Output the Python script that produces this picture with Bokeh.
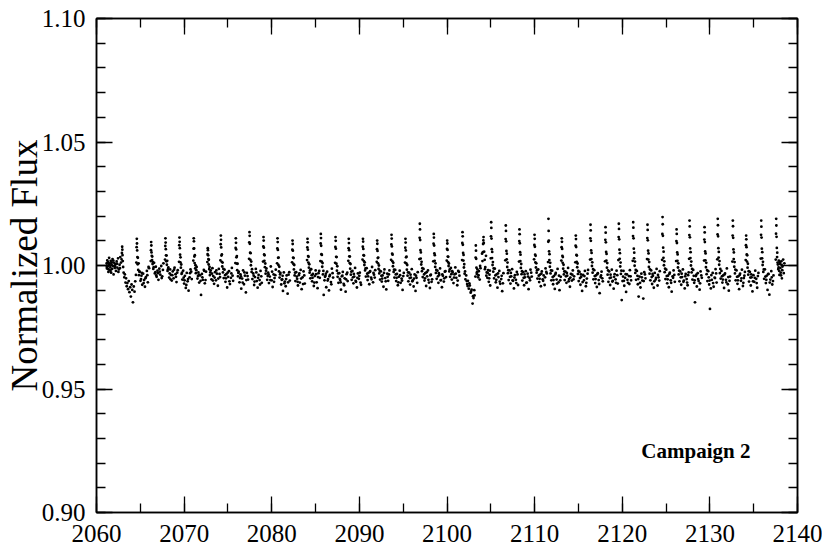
import numpy as np
from bokeh.plotting import figure
from bokeh.models import (Range1d, LinearAxis, FixedTicker, NumeralTickFormatter,
                          CustomJSTickFormatter, Label, ColumnDataSource)
from bokeh.embed import file_html
from bokeh.resources import INLINE

# ---------------- data ----------------
T0 = 2060.0  # time values below are days after 2060

time_days = [
    1.15, 1.19, 1.23, 1.27, 1.31, 1.36, 1.40, 1.44, 1.49, 1.53, 1.58, 1.62, 1.67, 1.72, 1.78, 1.83, 1.89, 1.95, 2.02, 2.08, 2.15, 2.22, 2.30, 2.38, 2.46, 2.55, 2.63, 2.72, 2.80,
    2.86, 2.90, 2.93, 2.95, 2.97, 3.00, 3.04, 3.10, 3.17, 3.24, 3.31, 3.38, 3.45, 3.52, 3.60, 3.68, 3.76, 3.84, 3.92, 4.00, 4.08, 4.16, 4.25, 4.34, 4.42, 4.50,
    4.55, 4.58, 4.60, 4.62, 4.64, 4.67, 4.70, 4.76, 4.84, 4.93, 5.02, 5.13, 5.22, 5.32, 5.43, 5.53, 5.64, 5.75, 5.86, 6.00,
    6.19, 6.22, 6.24, 6.26, 6.28, 6.31, 6.34, 6.40, 6.48, 6.57, 6.66, 6.77, 6.86, 6.96, 7.07, 7.17, 7.28, 7.39, 7.50, 7.64,
    7.82, 7.85, 7.87, 7.89, 7.91, 7.94, 7.97, 8.03, 8.11, 8.20, 8.29, 8.40, 8.49, 8.59, 8.70, 8.80, 8.91, 9.02, 9.13, 9.27,
    9.42, 9.45, 9.47, 9.49, 9.51, 9.54, 9.57, 9.63, 9.71, 9.80, 9.89, 10.00, 10.09, 10.19, 10.30, 10.40, 10.51, 10.62, 10.73, 10.87,
    11.05, 11.08, 11.10, 11.12, 11.14, 11.17, 11.20, 11.26, 11.34, 11.43, 11.52, 11.63, 11.72, 11.82, 11.93, 12.03, 12.14, 12.25, 12.36, 12.50,
    12.65, 12.68, 12.70, 12.72, 12.74, 12.77, 12.80, 12.86, 12.94, 13.03, 13.12, 13.23, 13.32, 13.42, 13.53, 13.63, 13.74, 13.85, 13.96, 14.10,
    14.14, 14.17, 14.19, 14.21, 14.23, 14.26, 14.29, 14.35, 14.43, 14.52, 14.61, 14.72, 14.81, 14.91, 15.02, 15.12, 15.23, 15.34, 15.45, 15.59,
    15.85, 15.88, 15.90, 15.92, 15.94, 15.97, 16.00, 16.06, 16.14, 16.23, 16.32, 16.43, 16.52, 16.62, 16.73, 16.83, 16.94, 17.05, 17.16, 17.30,
    17.41, 17.44, 17.46, 17.48, 17.50, 17.53, 17.56, 17.62, 17.70, 17.79, 17.88, 17.99, 18.08, 18.18, 18.29, 18.39, 18.50, 18.61, 18.72, 18.86,
    19.01, 19.04, 19.06, 19.08, 19.10, 19.13, 19.16, 19.22, 19.30, 19.39, 19.48, 19.59, 19.68, 19.78, 19.89, 19.99, 20.10, 20.21, 20.32, 20.46,
    20.61, 20.64, 20.66, 20.68, 20.70, 20.73, 20.76, 20.82, 20.90, 20.99, 21.08, 21.19, 21.28, 21.38, 21.49, 21.59, 21.70, 21.81, 21.92, 22.06,
    22.32, 22.35, 22.37, 22.39, 22.41, 22.44, 22.47, 22.53, 22.61, 22.70, 22.79, 22.90, 22.99, 23.09, 23.20, 23.30, 23.41, 23.52, 23.63, 23.77,
    24.03, 24.06, 24.08, 24.10, 24.12, 24.15, 24.18, 24.24, 24.32, 24.41, 24.50, 24.61, 24.70, 24.80, 24.91, 25.01, 25.12, 25.23, 25.34, 25.48,
    25.55, 25.58, 25.60, 25.62, 25.64, 25.67, 25.70, 25.76, 25.84, 25.93, 26.02, 26.13, 26.22, 26.32, 26.43, 26.53, 26.64, 26.75, 26.86, 27.00,
    27.23, 27.26, 27.28, 27.30, 27.32, 27.35, 27.38, 27.44, 27.52, 27.61, 27.70, 27.81, 27.90, 28.00, 28.11, 28.21, 28.32, 28.43, 28.54, 28.66,
    28.74, 28.77, 28.79, 28.81, 28.83, 28.86, 28.89, 28.95, 29.03, 29.12, 29.21, 29.32, 29.41, 29.51, 29.62, 29.72, 29.83, 29.94, 30.05, 30.19,
    30.36, 30.39, 30.41, 30.43, 30.45, 30.48, 30.51, 30.57, 30.65, 30.74, 30.83, 30.94, 31.03, 31.13, 31.24, 31.34, 31.45, 31.56, 31.67, 31.81,
    31.98, 32.01, 32.03, 32.05, 32.07, 32.10, 32.13, 32.19, 32.27, 32.36, 32.45, 32.56, 32.65, 32.75, 32.86, 32.96, 33.07, 33.18, 33.29, 33.43,
    33.62, 33.65, 33.67, 33.69, 33.71, 33.74, 33.77, 33.83, 33.91, 34.00, 34.09, 34.20, 34.29, 34.39, 34.50, 34.60, 34.71, 34.82, 34.93, 35.07,
    35.21, 35.24, 35.26, 35.28, 35.30, 35.33, 35.36, 35.42, 35.50, 35.59, 35.68, 35.79, 35.88, 35.98, 36.09, 36.19, 36.30, 36.41, 36.52, 36.66,
    36.85, 36.88, 36.90, 36.92, 36.94, 36.97, 37.00, 37.06, 37.14, 37.23, 37.32, 37.43, 37.52, 37.62, 37.73, 37.83, 37.94, 38.05, 38.16, 38.30,
    38.44, 38.47, 38.49, 38.51, 38.53, 38.56, 38.59, 38.65, 38.73, 38.82, 38.91, 39.02, 39.11, 39.21, 39.32, 39.42, 39.53, 39.64, 39.75, 39.89,
    39.97, 40.00, 40.02, 40.04, 40.06, 40.09, 40.12, 40.18, 40.26, 40.35, 40.44, 40.55, 40.64, 40.74, 40.85, 40.95, 41.06, 41.17, 41.28, 41.42,
    41.72, 41.75, 41.77, 41.79, 41.81, 41.84, 41.87, 41.93, 42.01, 42.10, 42.19, 42.30, 42.39, 42.49, 42.60, 42.70, 42.81, 42.92, 43.03, 43.14,
    43.24, 43.27, 43.29, 43.31, 43.33, 43.36, 43.40, 43.47, 43.55, 43.64, 43.73, 43.82,
    44.05, 44.09, 44.12, 44.15, 44.17, 44.20, 44.24, 44.30, 44.37, 44.45, 44.53, 44.61, 44.69, 44.77, 44.85, 44.93,
    44.99, 45.02, 45.04, 45.06, 45.08, 45.11, 45.14, 45.20, 45.28, 45.37, 45.46, 45.57, 45.66, 45.76, 45.87, 45.97, 46.08, 46.19, 46.30, 46.44,
    46.66, 46.69, 46.71, 46.73, 46.75, 46.78, 46.81, 46.87, 46.95, 47.04, 47.13, 47.24, 47.33, 47.43, 47.54, 47.64, 47.75, 47.86, 47.97, 48.11,
    48.22, 48.25, 48.27, 48.29, 48.31, 48.34, 48.37, 48.43, 48.51, 48.60, 48.69, 48.80, 48.89, 48.99, 49.10, 49.20, 49.31, 49.42, 49.53, 49.67,
    49.94, 49.97, 49.99, 50.01, 50.03, 50.06, 50.09, 50.15, 50.23, 50.32, 50.41, 50.52, 50.61, 50.71, 50.82, 50.92, 51.03, 51.14, 51.25, 51.39,
    51.53, 51.56, 51.58, 51.60, 51.62, 51.65, 51.68, 51.74, 51.82, 51.91, 52.00, 52.11, 52.20, 52.30, 52.41, 52.51, 52.62, 52.73, 52.84, 52.98,
    53.05, 53.08, 53.10, 53.12, 53.14, 53.17, 53.20, 53.26, 53.34, 53.43, 53.52, 53.63, 53.72, 53.82, 53.93, 54.03, 54.14, 54.25, 54.36, 54.50,
    54.65, 54.68, 54.70, 54.72, 54.74, 54.77, 54.80, 54.86, 54.94, 55.03, 55.12, 55.23, 55.32, 55.42, 55.53, 55.63, 55.74, 55.85, 55.96, 56.10,
    56.33, 56.36, 56.38, 56.40, 56.42, 56.45, 56.48, 56.54, 56.62, 56.71, 56.80, 56.91, 57.00, 57.10, 57.21, 57.31, 57.42, 57.53, 57.64, 57.78,
    58.04, 58.07, 58.09, 58.11, 58.13, 58.16, 58.19, 58.25, 58.33, 58.42, 58.51, 58.62, 58.71, 58.81, 58.92, 59.02, 59.13, 59.24, 59.35, 59.49,
    59.56, 59.59, 59.61, 59.63, 59.65, 59.68, 59.71, 59.77, 59.85, 59.94, 60.03, 60.14, 60.23, 60.33, 60.44, 60.54, 60.65, 60.76, 60.87, 61.01,
    61.20, 61.23, 61.25, 61.27, 61.29, 61.32, 61.35, 61.41, 61.49, 61.58, 61.67, 61.78, 61.87, 61.97, 62.08, 62.18, 62.29, 62.40, 62.51, 62.65,
    62.83, 62.86, 62.88, 62.90, 62.92, 62.95, 62.98, 63.04, 63.12, 63.21, 63.30, 63.41, 63.50, 63.60, 63.71, 63.81, 63.92, 64.03, 64.14, 64.28,
    64.55, 64.58, 64.60, 64.62, 64.64, 64.67, 64.70, 64.76, 64.84, 64.93, 65.02, 65.13, 65.22, 65.32, 65.43, 65.53, 65.64, 65.75, 65.86, 66.00,
    66.15, 66.18, 66.20, 66.22, 66.24, 66.27, 66.30, 66.36, 66.44, 66.53, 66.62, 66.73, 66.82, 66.92, 67.03, 67.13, 67.24, 67.35, 67.46, 67.58,
    67.63, 67.66, 67.68, 67.70, 67.72, 67.75, 67.78, 67.84, 67.92, 68.01, 68.10, 68.21, 68.30, 68.40, 68.51, 68.61, 68.72, 68.83, 68.94, 69.08,
    69.34, 69.37, 69.39, 69.41, 69.43, 69.46, 69.49, 69.55, 69.63, 69.72, 69.81, 69.92, 70.01, 70.11, 70.22, 70.32, 70.43, 70.54, 70.65, 70.77,
    70.85, 70.88, 70.90, 70.92, 70.94, 70.97, 71.00, 71.06, 71.14, 71.23, 71.32, 71.43, 71.52, 71.62, 71.73, 71.83, 71.94, 72.05, 72.16, 72.30,
    72.57, 72.60, 72.62, 72.64, 72.66, 72.69, 72.72, 72.78, 72.86, 72.95, 73.04, 73.15, 73.24, 73.34, 73.45, 73.55, 73.66, 73.77, 73.88, 74.00,
    74.09, 74.12, 74.14, 74.16, 74.18, 74.21, 74.24, 74.30, 74.38, 74.47, 74.56, 74.67, 74.76, 74.86, 74.97, 75.07, 75.18, 75.29, 75.40, 75.54,
    75.81, 75.84, 75.86, 75.88, 75.90, 75.93, 75.96, 76.02, 76.10, 76.19, 76.28, 76.39, 76.48, 76.58, 76.69, 76.79, 76.90, 77.01, 77.12, 77.26,
    77.52, 77.55, 77.57, 77.59, 77.61, 77.64, 77.67, 77.73, 77.80, 77.87, 77.94, 78.01, 78.08, 78.15, 78.22, 78.29, 78.36, 78.43, 78.50,
]

# flux deviation from 1, in parts per thousand
flux_ppt = [
    0.8, -1.2, 2.1, -0.4, 1.5, -2.6, 0.2, 3.1, -1.8, 0.9, -0.7, 1.9, -2.9, 0.4, -1.4, 2.6, -0.2, -3.6, 1.1, -1.0, 0.5, -2.2, 1.7, -0.9, 2.9, -1.6, 0.3, 3.4, 1.2,
    2.5, 5.1, 7.6, 6.4, 4.2, 1.8, -0.6, -2.9, -4.8, -3.6, -6.9, -5.2, -8.4, -7.1, -9.6, -6.3, -10.8, -8.8, -12.6, -7.7, -9.9, -14.9, -8.5, -10.6, -6.4, -3.8,
    1.2, 7.4, 10.8, 8.9, 6.1, 3.4, 0.5, -1.8, -3.9, -2.6, -6.2, -4.1, -7.8, -3.3, -5.9, -8.6, -4.7, -2.2, -6.8, -1.1,
    1.8, 6.2, 9.5, 8.1, 5.3, 3.9, 2.2, 0.6, -1.4, 1.1, -3.2, -0.5, -4.6, -2.1, -5.8, -1.3, -3.7, -0.2, -4.4, 0.9,
    2.4, 7.9, 11.0, 9.3, 6.6, 4.1, 1.7, 0.3, -2.2, -0.8, -4.9, -1.6, -3.8, -6.1, -2.4, -5.2, -0.9, -3.5, -6.7, -1.9,
    1.5, 8.2, 11.3, 9.6, 7.0, 4.4, 1.3, -0.9, -3.4, -5.7, -2.1, -7.3, -4.2, -9.1, -3.0, -6.4, -10.2, -4.8, -1.6, -5.5,
    2.0, 6.8, 11.0, 9.8, 6.9, 3.6, 1.0, -1.2, -3.1, -0.6, -5.3, -2.8, -6.9, -4.0, -11.9, -3.4, -5.8, -1.8, -7.2, -2.5,
    1.4, 4.6, 7.0, 6.2, 4.1, 2.6, 0.4, -1.5, -3.9, -2.0, -5.6, -1.1, -4.3, -7.4, -2.7, -6.0, -3.3, -8.2, -1.4, -4.7,
    2.1, 8.6, 12.1, 10.4, 7.3, 4.0, 1.5, -0.4, -2.8, -5.1, -1.7, -6.6, -3.5, -8.9, -4.6, -2.3, -7.5, -5.0, -1.0, -6.2,
    1.0, 7.1, 11.0, 9.2, 6.5, 3.3, 0.8, -1.9, -4.4, -2.5, -6.8, -3.6, -9.4, -5.3, -2.0, -7.6, -4.1, -10.9, -3.0, -5.7,
    2.7, 9.4, 13.5, 12.0, 8.8, 5.2, 2.3, 0.1, -2.6, -5.5, -3.2, -7.9, -4.7, -1.4, -6.3, -9.0, -3.8, -5.9, -2.2, -7.0,
    1.6, 7.7, 11.5, 10.1, 7.2, 4.5, 1.9, -0.7, -3.3, -1.2, -5.8, -2.9, -7.1, -4.5, -0.4, -6.0, -8.7, -3.6, -5.1, -1.7,
    0.9, 6.9, 11.0, 9.5, 6.3, 3.1, 0.2, -2.4, -4.9, -3.0, -7.7, -5.6, -10.3, -2.8, -6.5, -8.4, -4.0, -11.4, -3.7, -6.1,
    1.3, 6.4, 10.1, 8.7, 6.0, 3.2, 0.6, -1.6, -4.0, -6.3, -2.7, -5.4, -8.1, -3.9, -6.9, -1.8, -9.6, -4.8, -2.4, -7.3,
    2.2, 7.3, 10.8, 9.4, 6.4, 3.8, 1.2, -0.9, -2.9, -5.2, -1.5, -6.4, -3.4, -8.3, -4.3, -2.0, -6.8, -9.2, -3.1, -5.0,
    1.8, 8.9, 12.8, 11.1, 8.0, 4.6, 1.6, -0.5, -3.6, -11.9, -6.0, -4.2, -8.8, -2.5, -5.5, -10.1, -3.8, -6.7, -1.3, -4.9,
    1.1, 7.5, 11.5, 10.0, 6.8, 3.5, 0.7, -2.1, -4.6, -7.0, -3.1, -5.9, -9.8, -4.4, -2.6, -7.4, -5.2, -10.6, -3.5, -6.3,
    1.9, 7.0, 10.8, 9.1, 6.2, 3.7, 1.0, -1.3, -3.7, -5.8, -2.2, -7.2, -4.5, -1.0, -6.6, -8.9, -3.2, -5.4, -2.9, -7.8,
    2.4, 7.6, 10.8, 9.7, 6.7, 4.2, 1.8, 0.2, -2.0, -4.5, -1.1, -5.9, -3.0, -7.6, -2.3, -4.9, -0.6, -6.8, -3.7, -1.9,
    1.5, 6.6, 10.1, 8.8, 5.9, 3.0, 0.9, -1.4, -3.2, -5.7, -2.4, -6.5, -4.0, -8.6, -1.6, -5.1, -9.7, -3.3, -6.2, -2.0,
    2.3, 8.5, 12.4, 10.9, 7.7, 4.8, 1.7, -0.3, -2.6, -4.9, -1.8, -6.3, -3.4, -8.0, -4.6, -2.1, -7.0, -5.3, -9.9, -3.0,
    1.2, 7.2, 10.8, 9.3, 6.1, 3.3, 0.8, -1.7, -4.1, -6.4, -2.9, -7.7, -4.9, -1.5, -6.0, -8.5, -3.6, -10.3, -5.0, -2.7,
    2.6, 11.2, 16.9, 14.6, 10.3, 6.2, 2.8, 0.4, -2.3, -4.7, -1.4, -6.1, -3.1, -8.3, -4.4, -2.0, -6.9, -9.1, -3.7, -5.6,
    1.7, 8.8, 12.8, 11.3, 8.1, 4.9, 1.9, -0.6, -3.0, -5.4, -2.1, -7.0, -3.8, -1.2, -5.9, -8.8, -4.2, -6.5, -2.5, -4.7,
    2.0, 6.7, 10.1, 8.9, 6.3, 3.6, 1.4, -0.2, -2.4, -4.6, -1.0, -5.7, -2.8, -7.1, -3.6, -0.8, -5.0, -8.0, -2.2, -4.1,
    2.2, 9.1, 13.5, 11.8, 8.4, 5.1, 2.0, -0.8, -3.3, -5.6, -4.0, -7.5, -6.2, -9.4, -8.1, -11.0, -9.8, -15.4, -13.2, -12.1,
    -4.5, 3.2, 8.1, 6.0, 2.7, -0.9, -3.4, -1.6, -4.8, -2.3, -5.7, -1.1,
    1.8, 5.4, 8.7, 10.2, 11.5, 9.1, 5.6, 2.3, -0.7, 3.9, -2.8, -5.0, -1.9, -6.6, -3.7, -8.1,
    2.9, 11.8, 17.5, 15.2, 10.9, 6.6, 3.0, 0.2, -2.5, -5.2, -1.3, -6.8, -3.6, -9.0, -4.7, -2.2, -7.4, -5.5, -10.4, -3.1,
    2.1, 10.7, 16.2, 14.0, 9.8, 5.9, 2.5, -0.6, -3.1, -5.9, -2.0, -7.3, -4.4, -1.5, -6.2, -9.3, -3.9, -5.8, -2.6, -7.9,
    1.6, 9.9, 14.6, 12.7, 9.0, 5.4, 1.8, -1.0, -3.5, -6.1, -2.7, -8.0, -4.8, -2.3, -6.9, -3.3, -9.6, -5.1, -1.7, -4.5,
    2.5, 8.3, 12.4, 10.8, 7.6, 4.4, 1.3, -0.8, -2.9, -5.3, -1.6, -6.7, -3.7, -8.4, -2.4, -5.6, -4.0, -7.9, -1.2, -3.2,
    1.4, 9.6, 18.9, 14.0, 10.1, 5.7, 2.2, -0.5, -3.2, -6.0, -2.1, -7.6, -4.3, -9.5, -3.0, -5.7, -1.4, -6.8, -10.0, -4.6,
    2.0, 7.4, 11.0, 9.6, 6.7, 3.9, 1.1, -1.3, -3.6, -5.9, -2.5, -7.0, -4.1, -1.0, -5.5, -8.6, -3.4, -6.1, -2.0, -4.4,
    1.3, 8.0, 12.1, 10.7, 7.5, 4.3, 1.5, -0.7, -3.4, -6.3, -2.6, -7.8, -4.6, -10.3, -3.8, -6.0, -2.2, -8.4, -5.3, -1.8,
    2.4, 11.0, 16.5, 14.2, 10.0, 6.1, 2.6, -0.2, -2.9, -5.6, -1.9, -7.1, -4.0, -8.7, -3.1, -5.9, -11.2, -4.7, -2.5, -6.4,
    1.7, 10.4, 15.5, 13.3, 9.4, 5.5, 2.0, -0.9, -3.7, -6.6, -2.4, -7.9, -4.9, -1.7, -6.2, -9.4, -3.5, -5.6, -2.1, -7.3,
    2.2, 11.5, 16.9, 14.8, 10.6, 6.4, 2.7, -0.4, -3.4, -14.0, -6.3, -2.2, -8.2, -5.0, -10.7, -3.6, -7.0, -4.3, -1.9, -6.0,
    1.9, 11.9, 17.5, 15.3, 11.0, 6.8, 2.9, -0.1, -3.0, -5.8, -2.2, -7.6, -12.6, -4.5, -8.9, -3.3, -6.1, -13.4, -2.7, -5.2,
    2.6, 11.1, 16.5, 14.4, 10.2, 6.0, 2.4, -0.6, -3.3, -6.0, -2.0, -7.5, -4.2, -9.0, -3.0, -5.7, -1.4, -8.1, -4.8, -2.3,
    2.3, 12.8, 19.6, 16.7, 12.0, 7.2, 3.1, 0.1, -2.7, -5.5, -1.7, -7.2, -4.1, -8.8, -2.9, -6.0, -10.6, -4.4, -2.0, -6.6,
    1.8, 9.9, 14.6, 12.8, 9.1, 5.3, 1.9, -0.8, -3.6, -6.4, -2.4, -7.8, -4.7, -1.6, -6.1, -9.3, -3.4, -5.5, -8.0, -2.8,
    2.7, 12.3, 18.2, 15.8, 11.4, 6.9, 3.0, 0.0, -2.8, -5.7, -1.8, -7.0, -14.9, -4.3, -8.5, -3.1, -6.3, -9.8, -2.4, -5.0,
    2.0, 10.5, 15.5, 13.4, 9.5, 5.7, 2.1, -0.7, -3.5, -6.3, -2.3, -7.7, -17.6, -9.3, -5.8, -3.0, -8.6, -4.9, -1.5, -6.9,
    2.5, 12.6, 18.9, 16.3, 11.8, 7.0, 3.2, 0.3, -3.1, -5.3, -2.2, -6.9, -4.0, -9.1, -3.2, -5.8, -1.2, -7.6, -10.2, -4.5,
    1.6, 12.1, 18.2, 15.9, 11.2, 6.5, 2.6, -0.5, -3.2, -6.0, -2.0, -7.4, -4.4, -9.6, -3.3, -6.2, -1.7, -8.3, -5.1, -2.6,
    2.2, 8.2, 12.1, 10.6, 7.4, 4.5, 1.6, -0.9, -3.7, -6.5, -2.6, -8.1, -4.8, -10.5, -3.9, -6.6, -2.1, -5.4, -9.0, -3.0,
    2.8, 12.4, 18.2, 15.7, 11.3, 6.8, 2.9, 0.2, -2.6, -5.4, -1.6, -7.1, -4.2, -9.9, -3.4, -11.8, -5.7, -2.3, -7.7, -4.0,
    2.4, 12.9, 18.9, 16.2, 11.6, 7.1, 3.4, 1.2, -1.5, 2.0, -3.8, 0.6, -2.9, 1.7, -5.2, -0.4, 2.4, -3.1, 0.9,
]

# further points of the dense lower band (days after 2060, ppt)
band_days = [
    1.17, 1.25, 1.34, 1.47, 1.60, 1.75, 1.92, 2.12, 2.34, 2.50, 2.68,
    4.72, 4.80, 4.89, 5.08, 5.18, 5.38, 5.58, 5.80, 5.94,
    6.36, 6.44, 6.53, 6.72, 6.82, 7.02, 7.22, 7.44, 7.58,
    7.99, 8.07, 8.16, 8.35, 8.45, 8.65, 8.85, 9.07, 9.21,
    9.59, 9.67, 9.76, 9.95, 10.05, 10.25, 10.45, 10.67, 10.81,
    11.22, 11.30, 11.39, 11.58, 11.68, 11.88, 12.08, 12.30, 12.44,
    12.82, 12.90, 12.99, 13.18, 13.28, 13.48, 13.68, 13.90, 14.04,
    14.31, 14.39, 14.48, 14.67, 14.77, 14.97, 15.17, 15.39, 15.53,
    16.02, 16.10, 16.19, 16.38, 16.48, 16.68, 16.88, 17.10, 17.24,
    17.58, 17.66, 17.75, 17.94, 18.04, 18.24, 18.44, 18.66, 18.80,
    19.18, 19.26, 19.35, 19.54, 19.64, 19.84, 20.04, 20.26, 20.40,
    20.78, 20.86, 20.95, 21.14, 21.24, 21.44, 21.64, 21.86, 22.00,
    22.49, 22.57, 22.66, 22.85, 22.95, 23.15, 23.35, 23.57, 23.71,
    24.20, 24.28, 24.37, 24.56, 24.66, 24.86, 25.06, 25.28, 25.42,
    25.72, 25.80, 25.89, 26.08, 26.18, 26.38, 26.58, 26.80, 26.94,
    27.40, 27.48, 27.57, 27.76, 27.86, 28.06, 28.26, 28.48, 28.62,
    28.91, 28.99, 29.08, 29.27, 29.37, 29.57, 29.77, 29.99, 30.13,
    30.53, 30.61, 30.70, 30.89, 30.99, 31.19, 31.39, 31.61, 31.75,
    32.15, 32.23, 32.32, 32.51, 32.61, 32.81, 33.01, 33.23, 33.37,
    33.79, 33.87, 33.96, 34.15, 34.25, 34.45, 34.65, 34.87, 35.01,
    35.38, 35.46, 35.55, 35.74, 35.84, 36.04, 36.24, 36.46, 36.60,
    37.02, 37.10, 37.19, 37.38, 37.48, 37.68, 37.88, 38.10, 38.24,
    38.61, 38.69, 38.78, 38.97, 39.07, 39.27, 39.47, 39.69, 39.83,
    40.14, 40.22, 40.31, 40.50, 40.60, 40.80, 41.00, 41.22, 41.36,
    41.89, 41.97, 42.06, 42.25, 42.35, 42.55, 42.75, 42.97, 43.11,
    43.42, 43.60, 43.78, 44.00, 44.33, 44.49, 44.65, 44.81, 44.89,
    45.16, 45.24, 45.33, 45.52, 45.62, 45.82, 46.02, 46.24, 46.38,
    46.83, 46.91, 47.00, 47.19, 47.29, 47.49, 47.69, 47.91, 48.05,
    48.39, 48.47, 48.56, 48.75, 48.85, 49.05, 49.25, 49.47, 49.61,
    50.11, 50.19, 50.28, 50.47, 50.57, 50.77, 50.97, 51.19, 51.33,
    51.70, 51.78, 51.87, 52.06, 52.16, 52.36, 52.56, 52.78, 52.92,
    53.22, 53.30, 53.39, 53.58, 53.68, 53.88, 54.08, 54.30, 54.44,
    54.82, 54.90, 54.99, 55.18, 55.28, 55.48, 55.68, 55.90, 56.04,
    56.50, 56.58, 56.67, 56.86, 56.96, 57.16, 57.36, 57.58, 57.72,
    58.21, 58.29, 58.38, 58.57, 58.67, 58.87, 59.07, 59.29, 59.43,
    59.73, 59.81, 59.90, 60.09, 60.19, 60.39, 60.59, 60.81, 60.95,
    61.37, 61.45, 61.54, 61.73, 61.83, 62.03, 62.23, 62.45, 62.59,
    63.00, 63.08, 63.17, 63.36, 63.46, 63.66, 63.86, 64.08, 64.22,
    64.72, 64.80, 64.89, 65.08, 65.18, 65.38, 65.58, 65.80, 65.94,
    66.32, 66.40, 66.49, 66.68, 66.78, 66.98, 67.18, 67.40, 67.52,
    67.80, 67.88, 67.97, 68.16, 68.26, 68.46, 68.66, 68.88, 69.02,
    69.51, 69.59, 69.68, 69.87, 69.97, 70.17, 70.37, 70.59, 70.71,
    71.02, 71.10, 71.19, 71.38, 71.48, 71.68, 71.88, 72.10, 72.24,
    72.74, 72.82, 72.91, 73.10, 73.20, 73.40, 73.60, 73.82, 73.94,
    74.26, 74.34, 74.43, 74.62, 74.72, 74.92, 75.12, 75.34, 75.48,
    75.98, 76.06, 76.15, 76.34, 76.44, 76.64, 76.84, 77.06, 77.20,
    77.69, 77.76, 77.84, 77.91, 77.98, 78.05, 78.12, 78.19, 78.26,
]

band_ppt = [
    -0.5, 1.0, -1.5, 0.6, -2.1, 1.3, 2.0, -0.3, 0.7, -2.6, -1.1,
    3.1, 0.9, -2.4, -5.5, -3.0, -7.1, -5.2, -3.9, -0.6,
    3.6, 1.4, -0.7, -2.7, -4.0, -3.1, -2.5, -5.1, -1.8,
    4.0, 1.9, -1.5, -3.2, -5.6, -3.9, -1.7, -4.6, -2.9,
    3.3, 0.4, -2.9, -4.9, -6.0, -7.9, -5.5, -3.1, -2.5,
    4.2, 0.1, -1.9, -4.3, -3.7, -6.2, -4.8, -2.2, -5.9,
    2.3, -0.6, -2.8, -3.3, -6.1, -4.9, -2.0, -5.3, -3.4,
    4.5, 1.2, -1.4, -3.9, -5.2, -2.9, -6.4, -3.2, -4.1,
    3.8, 0.7, -3.0, -5.1, -4.4, -6.9, -2.8, -5.9, -4.3,
    5.0, 1.6, -1.5, -4.1, -6.5, -2.8, -5.0, -7.7, -4.4,
    4.1, 0.8, -2.1, -4.3, -3.6, -5.9, -2.5, -6.6, -3.9,
    3.2, -0.5, -3.6, -5.8, -4.2, -7.2, -5.5, -6.8, -2.7,
    3.0, 0.2, -2.9, -4.5, -6.6, -3.2, -5.3, -7.5, -4.0,
    3.5, 0.5, -2.0, -3.9, -5.0, -6.9, -3.5, -4.7, -2.2,
    4.3, 1.0, -2.2, -4.6, -3.3, -6.1, -4.4, -7.6, -3.1,
    3.4, -0.3, -3.2, -5.4, -6.8, -4.1, -8.0, -5.6, -2.9,
    3.6, 0.6, -2.5, -4.8, -3.4, -6.2, -5.0, -4.2, -6.9,
    4.0, 1.3, -1.2, -3.3, -4.4, -2.6, -5.6, -3.0, -4.9,
    3.2, 0.0, -2.1, -4.2, -5.3, -3.0, -6.4, -4.6, -3.6,
    4.4, 1.1, -1.7, -3.6, -5.0, -6.8, -3.9, -6.1, -4.3,
    3.6, 0.2, -2.8, -5.1, -3.7, -6.4, -5.3, -4.1, -7.0,
    5.3, 1.5, -1.1, -3.6, -5.2, -2.7, -5.8, -4.0, -6.6,
    4.2, 0.9, -1.8, -4.4, -3.1, -6.0, -3.6, -5.2, -2.3,
    3.5, 0.8, -1.6, -3.5, -2.3, -4.9, -3.3, -6.1, -2.6,
    4.3, 0.5, -2.4, -6.3, -8.3, -7.2, -10.5, -12.4, -10.0,
    -2.7, -3.9, -0.2, 4.8, -1.5, -4.1, -3.0, -5.2, -2.1,
    5.5, 1.4, -1.2, -4.0, -5.8, -3.2, -6.5, -4.2, -7.2,
    4.8, 1.2, -1.9, -4.6, -3.0, -6.0, -4.9, -7.1, -3.6,
    4.4, 0.6, -2.3, -5.0, -3.6, -7.0, -4.5, -6.0, -2.9,
    3.9, 0.9, -1.9, -4.1, -5.4, -3.3, -6.2, -4.8, -2.6,
    4.6, 1.1, -2.0, -4.7, -5.9, -3.6, -7.3, -4.1, -6.0,
    3.4, 0.3, -2.4, -4.4, -3.0, -6.4, -4.9, -3.7, -5.6,
    4.0, 0.8, -2.2, -5.1, -3.6, -6.7, -4.3, -7.0, -3.3,
    5.1, 1.3, -1.5, -4.3, -5.5, -3.5, -7.5, -4.0, -5.2,
    4.7, 1.0, -2.0, -5.1, -3.7, -6.5, -4.6, -7.0, -3.9,
    5.0, 1.2, -2.1, -4.5, -6.2, -3.5, -5.8, -7.5, -4.4,
    5.2, 1.6, -1.8, -4.2, -5.5, -7.0, -4.8, -6.3, -3.6,
    4.9, 1.4, -1.6, -4.7, -3.4, -6.4, -5.0, -3.8, -6.1,
    5.6, 1.7, -1.3, -4.3, -5.6, -3.4, -7.0, -5.0, -3.8,
    4.5, 0.9, -2.1, -4.8, -3.3, -6.6, -4.4, -6.9, -3.9,
    5.4, 1.6, -1.4, -4.2, -6.0, -3.7, -5.5, -7.2, -4.0,
    4.9, 1.1, -1.9, -4.8, -6.1, -3.9, -7.1, -5.1, -3.2,
    5.5, 1.8, -1.4, -4.4, -5.7, -3.6, -6.8, -4.7, -6.2,
    5.3, 1.4, -1.7, -4.6, -6.0, -3.8, -5.2, -7.0, -4.1,
    4.1, 0.7, -2.3, -4.9, -3.6, -6.4, -5.0, -7.1, -4.3,
    5.4, 1.5, -1.6, -4.5, -5.8, -3.5, -6.9, -4.8, -6.3,
    5.2, 0.4, -0.8, -2.2, 1.4, -1.0, -4.0, 0.2, -1.9,
]

x_major = [2060, 2070, 2080, 2090, 2100, 2110, 2120, 2130, 2140]
x_minor = [2060, 2065, 2070, 2075, 2080, 2085, 2090, 2095, 2100, 2105,
           2110, 2115, 2120, 2125, 2130, 2135, 2140]
y_major = [0.90, 0.95, 1.00, 1.05, 1.10]
y_minor = [0.90, 0.91, 0.92, 0.93, 0.94, 0.95, 0.96, 0.97, 0.98, 0.99, 1.00,
           1.01, 1.02, 1.03, 1.04, 1.05, 1.06, 1.07, 1.08, 1.09, 1.10]

y_title = "Normalized Flux"
note_text = "Campaign 2"

# ---------------- build ----------------
n1 = min(len(time_days), len(flux_ppt))
n2 = min(len(band_days), len(band_ppt))
all_days = time_days[:n1] + band_days[:n2]
all_ppt = flux_ppt[:n1] + band_ppt[:n2]
src = ColumnDataSource(data=dict(
    t=[T0 + d for d in all_days],
    f=[1.0 + v / 1000.0 for v in all_ppt],
))

FONT = "Liberation Serif"

p = figure(width=822, height=545, output_backend="svg", toolbar_location=None,
           x_range=Range1d(2060, 2140), y_range=Range1d(0.90, 1.10),
           min_border_left=96, min_border_right=25, min_border_top=18,
           min_border_bottom=33)
p.grid.visible = False
p.outline_line_color = "black"
p.outline_line_width = 1.5
p.background_fill_color = "white"
p.border_fill_color = "white"

p.scatter("t", "f", source=src, marker="circle", size=2.8,
          fill_color="black", line_color=None)

def style_axis(ax, ticks, minor, show_labels):
    ax.ticker = FixedTicker(ticks=ticks, minor_ticks=minor)
    ax.axis_line_color = "black"
    ax.axis_line_width = 1.5
    ax.major_tick_in = 16
    ax.major_tick_out = 0
    ax.minor_tick_in = 9
    ax.minor_tick_out = 0
    ax.major_tick_line_color = "black"
    ax.minor_tick_line_color = "black"
    ax.major_tick_line_width = 1.3
    ax.minor_tick_line_width = 1.3
    ax.major_label_text_font = FONT
    ax.major_label_text_font_size = "25px"
    ax.major_label_text_color = "black"
    if not show_labels:
        ax.formatter = CustomJSTickFormatter(code="return ''")
        ax.major_label_standoff = 0

style_axis(p.xaxis[0], x_major, x_minor, True)
p.xaxis[0].major_label_standoff = 12
p.xaxis[0].major_label_text_line_height = 0.7
style_axis(p.yaxis[0], y_major, y_minor, True)
p.yaxis[0].formatter = NumeralTickFormatter(format="0.00")
p.yaxis[0].major_label_standoff = 11
p.yaxis[0].axis_label = y_title
p.yaxis[0].axis_label_text_font = FONT
p.yaxis[0].axis_label_text_font_size = "37px"
p.yaxis[0].axis_label_text_font_style = "normal"
p.yaxis[0].axis_label_text_color = "black"
p.yaxis[0].axis_label_standoff = -6

top = LinearAxis()
style_axis(top, x_major, x_minor, False)
p.add_layout(top, "above")
right = LinearAxis()
style_axis(right, y_major, y_minor, False)
p.add_layout(right, "right")

note = Label(x=2128.4, y=0.925, text=note_text, text_align="center",
             text_baseline="middle", text_font=FONT, text_font_size="21px",
             text_font_style="bold", text_color="black")
p.add_layout(note)

open("out.html", "w").write(file_html(p, INLINE))
